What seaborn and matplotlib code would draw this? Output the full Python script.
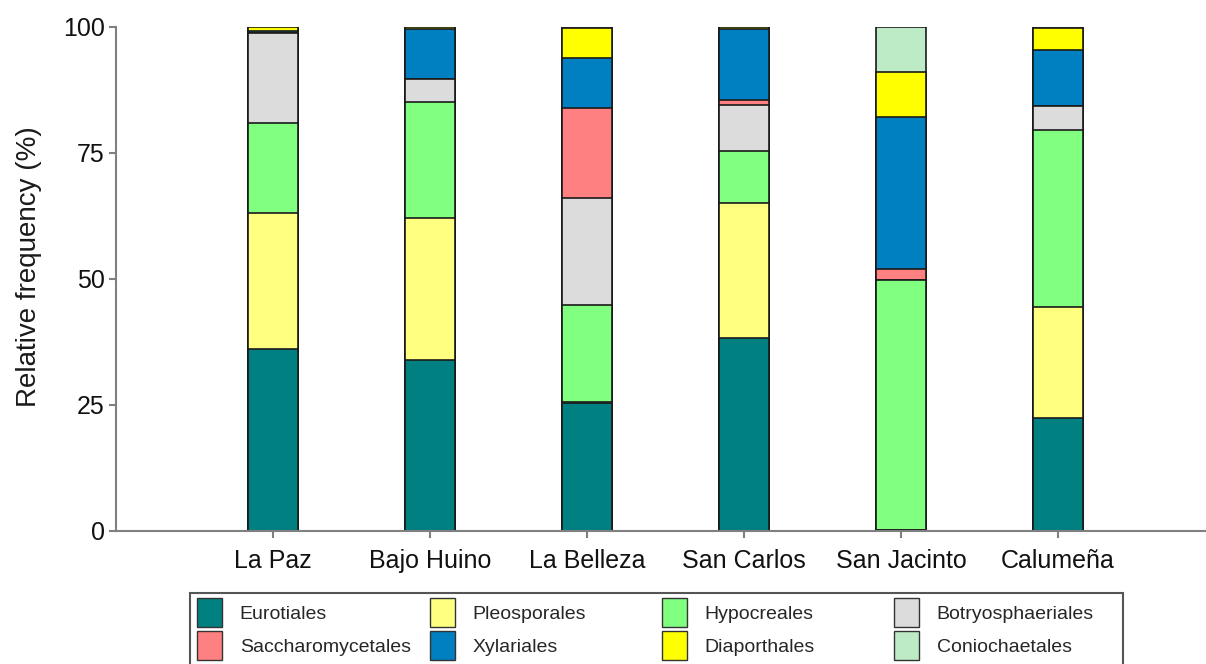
import matplotlib

matplotlib.use("Agg")
import matplotlib.pyplot as plt
import pandas as pd
import seaborn as sns
from matplotlib.patches import Patch, Rectangle

sites = ["La Paz", "Bajo Huino", "La Belleza", "San Carlos", "San Jacinto", "Calumeña"]
orders = [
    "Eurotiales", "Pleosporales", "Hypocreales", "Botryosphaeriales",
    "Saccharomycetales", "Xylariales", "Diaporthales", "Coniochaetales",
]
colors = ["#008080", "#FFFF80", "#80FF80", "#DCDCDC", "#FF8080", "#0080C0", "#FFFF00", "#BDEBC6"]

# relative frequency (%) per order, one value per site
eurotiales = [36.1, 33.9, 25.3, 38.2, 0.2, 22.4]
pleosporales = [26.9, 28.3, 0.3, 26.9, 0.0, 22.1]
hypocreales = [18.0, 23.0, 19.2, 10.2, 49.6, 35.1]
botryosphaeriales = [17.9, 4.5, 21.2, 9.2, 0.0, 4.7]
saccharomycetales = [0.0, 0.0, 17.9, 1.1, 2.1, 0.0]
xylariales = [0.3, 9.9, 9.9, 14.1, 30.3, 11.1]
diaporthales = [0.8, 0.4, 6.0, 0.3, 8.9, 4.4]
coniochaetales = [0.0, 0.0, 0.2, 0.0, 8.9, 0.2]

values = [eurotiales, pleosporales, hypocreales, botryosphaeriales,
          saccharomycetales, xylariales, diaporthales, coniochaetales]

rows = []
for name, vals in zip(orders, values):
    for site, v in zip(sites, vals):
        rows.append({"site": site, "order": name, "value": v})
df = pd.DataFrame(rows)
df["order"] = pd.Categorical(df["order"], categories=orders, ordered=True)
df = df.sort_values(["site", "order"])
df["cum"] = df.groupby("site", observed=True)["value"].cumsum()

sns.set_theme(style="white")
plt.rcParams["font.family"] = ["Liberation Sans", "DejaVu Sans"]

fig = plt.figure(figsize=(12.06, 6.64), dpi=100)
ax = fig.add_axes([116 / 1206, 133 / 664, 1090 / 1206, 504 / 664])

# stacked bars: draw cumulative heights from the top layer down
for name, col in reversed(list(zip(orders, colors))):
    sub = df[df["order"] == name]
    sns.barplot(data=sub, x="site", y="cum", order=sites, color=col, saturation=1,
                width=0.32, edgecolor="#1a1a1a", linewidth=1.2, errorbar=None, ax=ax)

ax.set_xlim(-1.0, 5.943)
ax.set_ylim(0, 100)
ax.set_yticks([0, 25, 50, 75, 100])
ax.set_xlabel("")
ax.set_ylabel("Relative frequency (%)", fontsize=20, color="#1a1a1a")
ax.yaxis.set_label_coords(-0.068, 0.525)

for side in ["top", "right"]:
    ax.spines[side].set_visible(False)
for side in ["left", "bottom"]:
    ax.spines[side].set_color("#808080")
    ax.spines[side].set_linewidth(1.5)
ax.tick_params(axis="both", which="major", direction="out", length=5, width=1.5,
               color="#808080", labelsize=18, labelcolor="#111111")
ax.tick_params(axis="x", pad=8, bottom=True)
ax.tick_params(axis="y", pad=3, left=True)

# legend: four columns in one frame, cut by the bottom edge
fig.add_artist(Rectangle((190 / 1206, -0.05), (1123 - 190) / 1206, 0.05 + (664 - 593) / 664,
                         transform=fig.transFigure, facecolor="white",
                         edgecolor="#555555", linewidth=1.5, zorder=1))
col_x = [197, 430, 662, 894]
for i, x in enumerate(col_x):
    handles = [Patch(facecolor=colors[j], edgecolor="#333333", linewidth=1.0,
                     label=orders[j]) for j in (i, i + 4)]
    leg = fig.legend(handles=handles, loc="upper left",
                     bbox_to_anchor=(x / 1206, 1 - 598 / 664), frameon=False,
                     fontsize=14, handlelength=1.3, handleheight=1.92,
                     handletextpad=0.9, labelspacing=0.2, borderpad=0,
                     borderaxespad=0)
    leg.set_zorder(2)

fig.savefig("out.png", dpi=100)
